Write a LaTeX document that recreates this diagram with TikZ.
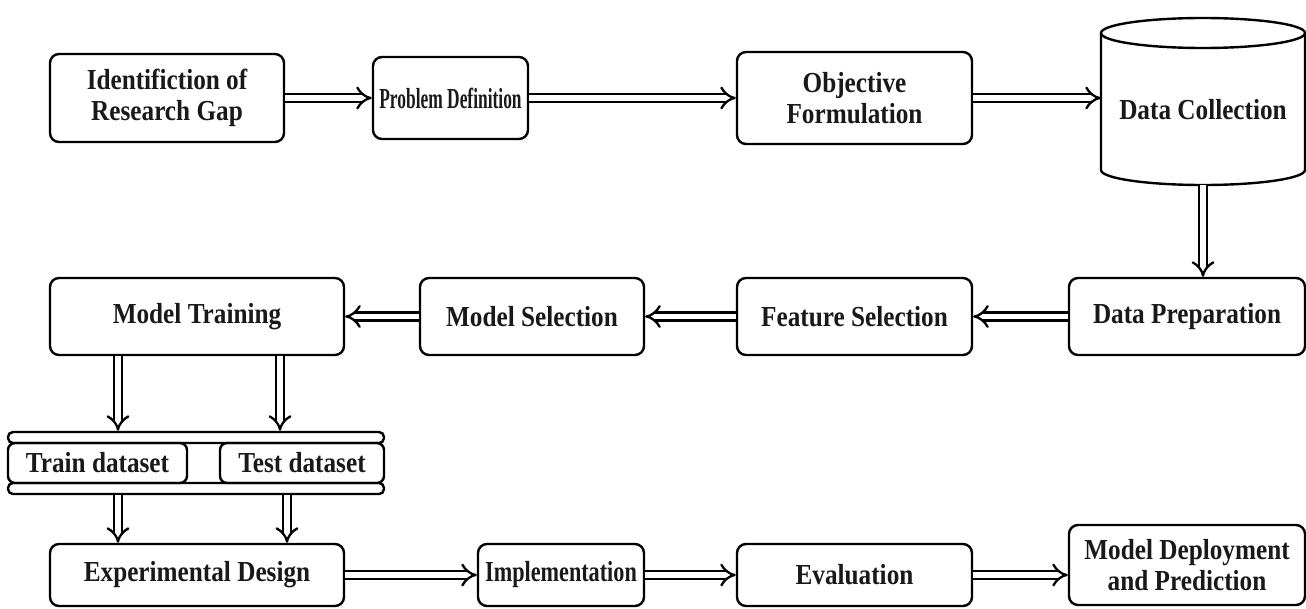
\documentclass[tikz,border=0pt]{standalone}
\usepackage{fontspec}
\usepackage{graphicx}
\setmainfont{Liberation Serif}[FakeStretch=0.87]
\usetikzlibrary{arrows.meta}
\begin{document}
\begin{tikzpicture}[x=1pt,y=-1pt,
  txt/.style={align=center, inner sep=0pt, font=\fontsize{29}{31}\selectfont\bfseries, text=black!90},
  box/.style={txt, draw, line width=2.4pt, rounded corners=9pt},
  plain/.style={txt},
  rail/.style={draw, line width=2.4pt, rounded corners=5pt, inner sep=0pt},
  dar/.style={double, line width=2.3pt, double distance=5.5pt, -{Implies[scale=1.25]}},
]
\useasboundingbox (0,0) rectangle (1306,608);

% row 1
\node[box, minimum width=234, minimum height=88] (ig) at (167,98) {Identifiction of\\Research Gap};
\node[box, minimum width=155, minimum height=82] (pd) at (450.5,98) {\scalebox{0.69}[1]{Problem Definition}};
\node[box, minimum width=235, minimum height=92] (of) at (854.5,98) {Objective\\Formulation};
% data collection cylinder
\draw[line width=2.4pt] (1203,33) ellipse[x radius=102, y radius=15];
\draw[line width=2.4pt] (1101,33) -- (1101,170) arc[start angle=180, end angle=0, x radius=102, y radius=15] -- (1305,33);
\node[plain, minimum width=204, minimum height=150] (dc) at (1203,110) {Data Collection};

% row 2
\node[box, minimum width=294, minimum height=77] (mt) at (197,316.5) {Model Training};
\node[box, minimum width=224, minimum height=77] (ms) at (532,316.5) {Model Selection};
\node[box, minimum width=235, minimum height=77] (fs) at (854.5,316.5) {Feature Selection};
\node[box, minimum width=236, minimum height=77] (dp) at (1187,316.5) {Data Preparation};

% dataset bar
\node[rail, minimum width=376, minimum height=11] (rtop) at (196,437.5) {};
\node[box, rounded corners=7pt, minimum width=179, minimum height=40] (train) at (97.5,463) {Train dataset};
\node[box, rounded corners=7pt, minimum width=164, minimum height=40] (test) at (302,463) {Test dataset};
\node[rail, minimum width=376, minimum height=11] (rbot) at (196,488.5) {};

% row 3
\node[box, minimum width=294, minimum height=62] (ed) at (197,575) {Experimental Design};
\node[box, minimum width=166, minimum height=62] (im) at (561,575) {\scalebox{0.88}[1]{Implementation}};
\node[box, minimum width=235, minimum height=62] (ev) at (854.5,575) {Evaluation};
\node[box, minimum width=236, minimum height=80] (md) at (1187,565) {Model Deployment\\and Prediction};

% arrow x positions
\coordinate (a1) at (118,0);
\coordinate (a2) at (280,0);
\coordinate (b1) at (118,0);
\coordinate (b2) at (287,0);

% connectors
\draw[dar] (ig.east) -- (pd.west);
\draw[dar] (pd.east) -- (of.west);
\draw[dar] (of.east) -- (of.east -| dc.west);
\draw[dar] (dc.south) -- (dc.south |- dp.north);
\draw[dar] (dp.west) -- (fs.east);
\draw[dar] (fs.west) -- (ms.east);
\draw[dar] (ms.west) -- (mt.east);
\draw[dar] (a1 |- mt.south) -- (a1 |- rtop.north);
\draw[dar] (a2 |- mt.south) -- (a2 |- rtop.north);
\draw[dar] (b1 |- rbot.south) -- (b1 |- ed.north);
\draw[dar] (b2 |- rbot.south) -- (b2 |- ed.north);
\draw[dar] (ed.east) -- (im.west);
\draw[dar] (im.east) -- (ev.west);
\draw[dar] (ev.east) -- (ev.east -| md.west);
\end{tikzpicture}
\end{document}
